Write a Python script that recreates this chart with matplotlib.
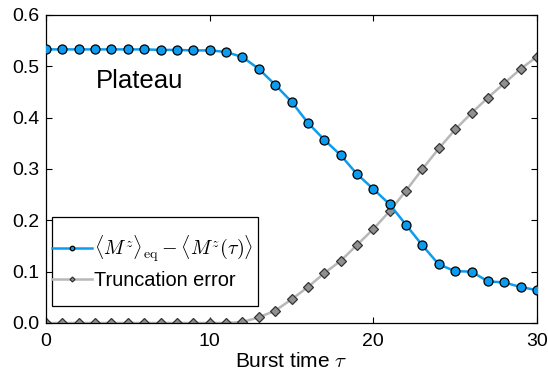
import matplotlib

matplotlib.use("Agg")
import matplotlib.pyplot as plt
import numpy as np
from matplotlib.patches import Rectangle

plt.rcParams["font.family"] = ["Liberation Sans", "DejaVu Sans"]
plt.rcParams["mathtext.fontset"] = "cm"

# burst time grid and the two curves
tau = np.arange(0, 31)
magnetization = [
    0.533, 0.533, 0.533, 0.533, 0.533, 0.533, 0.533, 0.532, 0.532, 0.531,
    0.531, 0.528, 0.518, 0.495, 0.464, 0.431, 0.390, 0.357, 0.327, 0.290,
    0.261, 0.231, 0.191, 0.151, 0.114, 0.101, 0.100, 0.081, 0.079, 0.070,
    0.064,
]
trunc_error = [
    0.0, 0.0, 0.0, 0.0, 0.0, 0.0, 0.0, 0.0, 0.0, 0.0,
    0.0, 0.0, 0.002, 0.011, 0.024, 0.046, 0.070, 0.097, 0.121, 0.152,
    0.183, 0.218, 0.258, 0.300, 0.340, 0.377, 0.409, 0.439, 0.467, 0.495,
    0.519,
]

C_BLUE = "#0b9cf0"
C_GRAY = "#b8b8b8"

fig = plt.figure(figsize=(5.48, 3.71), dpi=100)
ax = fig.add_axes([0.084, 0.1294, 0.896, 0.8302])

ax.plot(tau, magnetization, color=C_BLUE, lw=1.8, marker="o", ms=6.5,
        mfc=C_BLUE, mec="black", mew=0.9, zorder=3,
        label=r"$\langle M^z\rangle_{\rm eq} - \langle M^z(\tau)\rangle$")
ax.plot(tau, trunc_error, color=C_GRAY, lw=1.8, marker="D", ms=5,
        mfc="#909090", mec="#333333", mew=0.9, zorder=2,
        label="Truncation error")

ax.set_xlim(0, 30)
ax.set_ylim(0, 0.6)
ax.set_xticks([0, 10, 20, 30])
ax.set_yticks(np.arange(0, 0.61, 0.1))
ax.set_yticklabels(["0.0", "0.1", "0.2", "0.3", "0.4", "0.5", "0.6"])
ax.tick_params(direction="in", top=True, right=True, labelsize=14,
               length=4, width=0.8)
ax.tick_params(axis="x", pad=7)
ax.tick_params(axis="y", pad=5)
for s in ax.spines.values():
    s.set_linewidth(0.9)

ax.set_xlabel(r"Burst time $\tau$", fontsize=15, labelpad=2)
ax.text(5.7, 0.472, "Plateau", fontsize=18.5, ha="center", va="center")

# legend box is drawn by hand: tall vertical padding, handles flush left
box = Rectangle((0.012, 0.055), 0.42, 0.289, transform=ax.transAxes,
                facecolor="white", edgecolor="black", lw=0.9, zorder=4)
ax.add_patch(box)
leg = ax.legend(loc="center left", bbox_to_anchor=(0.012, 0.2),
                fontsize=14.4, markerscale=0.5, handlelength=2.0,
                handletextpad=0.1, borderpad=0, borderaxespad=0,
                labelspacing=0.35, frameon=False)
leg.set_zorder(5)

fig.savefig("out.png", dpi=100, facecolor="white")
